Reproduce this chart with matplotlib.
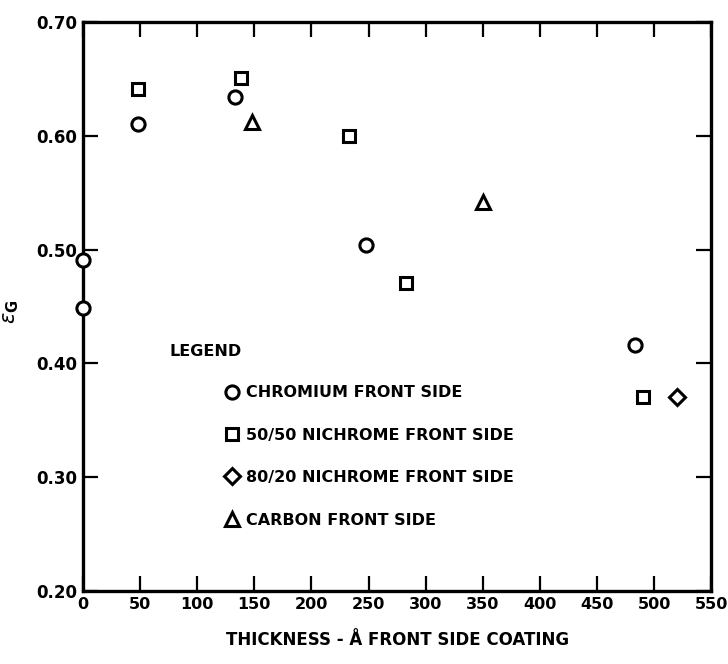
"""
plot.py: Emissivity versus front side coating thickness (scanned report figure).
"""

import matplotlib
matplotlib.use("Agg")
import matplotlib.pyplot as plt
import numpy as np

# Data (thickness in Angstrom, emissivity)
chromium_x = [0, 0, 48, 133, 248, 483]
chromium_y = [0.491, 0.449, 0.610, 0.634, 0.504, 0.416]

nichrome5050_x = [48, 138, 233, 283, 490]
nichrome5050_y = [0.641, 0.651, 0.600, 0.471, 0.370]

nichrome8020_x = [520]
nichrome8020_y = [0.370]

carbon_x = [148, 350]
carbon_y = [0.612, 0.542]

series_labels = ["CHROMIUM FRONT SIDE", "50/50 NICHROME FRONT SIDE",
                 "80/20 NICHROME FRONT SIDE", "CARBON FRONT SIDE"]

x_ticks = np.arange(0, 551, 50)
y_ticks = [0.20, 0.30, 0.40, 0.50, 0.60, 0.70]
y_tick_labels = ["0.20", "0.30", "0.40", "0.50", "0.60", "0.70"]

plt.rcParams["font.family"] = ["DejaVu Sans"]

fig = plt.figure(figsize=(7.28, 6.64), dpi=100)
ax = fig.add_axes([0.114, 0.110, 0.863, 0.857])

# Open black markers, no lines
style = dict(linestyle="none", markerfacecolor="white", markeredgecolor="black",
             markeredgewidth=2.2, clip_on=False, zorder=5)
ax.plot(chromium_x, chromium_y, marker="o", markersize=9.5, label=series_labels[0], **style)
ax.plot(nichrome5050_x, nichrome5050_y, marker="s", markersize=9, label=series_labels[1], **style)
ax.plot(nichrome8020_x, nichrome8020_y, marker="D", markersize=8.5, label=series_labels[2], **style)
ax.plot(carbon_x, carbon_y, marker="^", markersize=10, label=series_labels[3], **style)

ax.set_xlim(0, 550)
ax.set_ylim(0.20, 0.70)
ax.set_xticks(x_ticks)
ax.set_xticklabels([str(v) for v in x_ticks], fontsize=11.5, fontweight="bold")
ax.set_yticks(y_ticks)
ax.set_yticklabels(y_tick_labels, fontsize=12, fontweight="bold")

# Inward ticks on all four sides
ax.tick_params(direction="in", length=11, width=1.6, top=True, right=True,
               pad=4, colors="black")
for side in ax.spines.values():
    side.set_linewidth(2.4)

ax.set_xlabel("THICKNESS - \u00c5 FRONT SIDE COATING", fontsize=12,
              fontweight="bold", labelpad=14)
ax.set_ylabel(r"$\epsilon_{\mathbf{G}}$", fontsize=15)
ax.yaxis.set_label_coords(-0.098, 0.49)

# Legend block inside the plot
ax.text(0.138, 0.42, "LEGEND", transform=ax.transAxes, fontsize=11.5,
        fontweight="bold", va="center", ha="left")
leg = ax.legend(loc="upper left", bbox_to_anchor=(0.219, 0.373), frameon=False,
                fontsize=11.5, handlelength=0.6, handletextpad=0.6,
                labelspacing=1.72, borderaxespad=0)
for t in leg.get_texts():
    t.set_fontweight("bold")

fig.savefig("out.png", dpi=100)
